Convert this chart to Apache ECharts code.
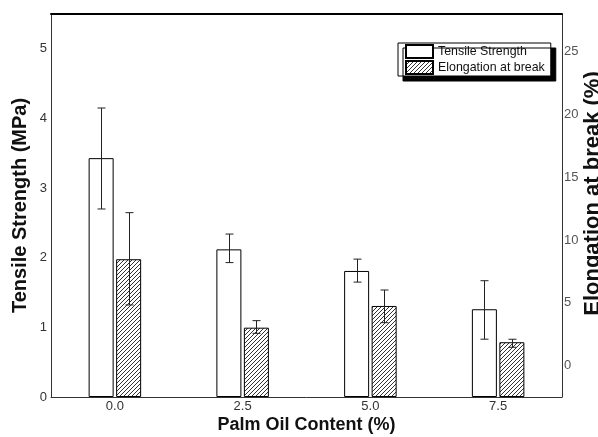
<!DOCTYPE html>
<html><head><meta charset="utf-8">
<script src="https://cdn.jsdelivr.net/npm/echarts@6/dist/echarts.min.js"></script>
<style>html,body{margin:0;padding:0;background:#fff}#c{width:598px;height:437px}</style>
</head><body><div id="c"></div>
<script>
const categories = ['0.0', '2.5', '5.0', '7.5'];
const tensile = [3.43, 2.12, 1.81, 1.26];
const tensileErrHigh = [4.15, 2.34, 1.98, 1.67];
const tensileErrLow = [2.70, 1.93, 1.65, 0.83];
const elongation = [8.47, 3.02, 4.75, 1.86];
const elongErrHigh = [12.18, 3.58, 6.02, 2.10];
const elongErrLow = [4.83, 2.57, 3.42, 1.46];
const leftTicks = [0, 1, 2, 3, 4, 5];
const rightTicks = [0, 5, 10, 15, 20, 25];

const SANS = '"Liberation Sans", Arial, sans-serif';

function hatch() {
  const s = 4, c = document.createElement('canvas');
  c.width = s; c.height = s;
  const g = c.getContext('2d');
  g.fillStyle = '#fff'; g.fillRect(0, 0, s, s);
  g.strokeStyle = '#333'; g.lineWidth = 1;
  g.beginPath();
  g.moveTo(0, s); g.lineTo(s, 0);
  g.moveTo(-1, 1); g.lineTo(1, -1);
  g.moveTo(s - 1, s + 1); g.lineTo(s + 1, s - 1);
  g.stroke();
  return c;
}

function errRender(idx) {
  return function (params, api) {
    const xi = api.value(0);
    const hi = api.coord([xi, api.value(1)]);
    const lo = api.coord([xi, api.value(2)]);
    const lay = api.barLayout({ barWidth: 25, barGap: '10%', count: 2 });
    const x = Math.round(hi[0] + lay[idx].offsetCenter) + 0.5;
    const w = 4;
    const st = { stroke: '#222', lineWidth: 1 };
    return {
      type: 'group', children: [
        { type: 'line', shape: { x1: x, y1: hi[1], x2: x, y2: lo[1] }, style: st },
        { type: 'line', shape: { x1: x - w, y1: hi[1], x2: x + w, y2: hi[1] }, style: st },
        { type: 'line', shape: { x1: x - w, y1: lo[1], x2: x + w, y2: lo[1] }, style: st }
      ]
    };
  };
}

const chart = echarts.init(document.getElementById('c'), null, { renderer: 'canvas' });
const axisLine = { show: true, onZero: false, lineStyle: { color: '#333', width: 1 } };

chart.setOption({
  animation: false,
  backgroundColor: '#fff',
  grid: { left: 51, right: 36, top: 14, bottom: 40, containLabel: false, outerBoundsMode: 'none' },
  legend: {
    data: ['Tensile Strength', 'Elongation at break'],
    orient: 'vertical', left: 398, top: 43,
    icon: 'rect',
    itemWidth: 27, itemHeight: 13, itemGap: 1,
    padding: [1, 6, 1, 7],
    backgroundColor: '#fff', borderColor: '#000', borderWidth: 1,
    shadowColor: '#000', shadowOffsetX: 5, shadowOffsetY: 5, shadowBlur: 0,
    textStyle: { fontFamily: SANS, fontSize: 12.4, color: '#111' }
  },
  xAxis: [{
    type: 'category', data: categories,
    axisLine: axisLine, axisTick: { show: false },
    axisLabel: { fontFamily: SANS, fontSize: 13, color: '#333', margin: 3 },
    name: 'Palm Oil Content (%)', nameLocation: 'middle', nameGap: 19, nameMoveOverlap: false,
    nameTextStyle: { fontFamily: SANS, fontWeight: 'bold', fontSize: 18, color: '#111', verticalAlign: 'top' }
  }, {
    type: 'category', data: categories, position: 'top',
    axisLine: { show: true, onZero: false, lineStyle: { color: '#000', width: 2 } },
    axisTick: { show: false }, axisLabel: { show: false }
  }],
  yAxis: [{
    type: 'value', min: 0, max: 5.5, position: 'left',
    axisLine: axisLine, axisTick: { show: false }, splitLine: { show: false },
    axisLabel: { customValues: leftTicks, fontFamily: SANS, fontSize: 13, color: '#333', margin: 4 },
    name: 'Tensile Strength (MPa)', nameLocation: 'middle', nameGap: 21, nameRotate: 90, nameMoveOverlap: false,
    nameTextStyle: { fontFamily: SANS, fontWeight: 'bold', fontSize: 20, color: '#111' }
  }, {
    type: 'value', min: -2.5, max: 28, startValue: -2.5, position: 'right',
    axisLine: axisLine, axisTick: { show: false }, splitLine: { show: false },
    axisLabel: { customValues: rightTicks, fontFamily: SANS, fontSize: 13, color: '#555', margin: 2 },
    name: 'Elongation at break (%)', nameLocation: 'middle', nameGap: 20, nameRotate: 90, nameMoveOverlap: false,
    nameTextStyle: { fontFamily: SANS, fontWeight: 'bold', fontSize: 22, color: '#111', padding: [0, 0, 0, 24] }
  }],
  series: [{
    name: 'Tensile Strength', type: 'bar', yAxisIndex: 0,
    data: tensile, barWidth: 25, barGap: '10%',
    itemStyle: { color: '#fff', borderColor: '#000', borderWidth: 1 }
  }, {
    name: 'Elongation at break', type: 'bar', yAxisIndex: 1,
    data: elongation, barWidth: 25, barGap: '10%',
    itemStyle: { color: { image: hatch(), repeat: 'repeat' }, borderColor: '#000', borderWidth: 1 }
  }, {
    name: 'tsErr', type: 'custom', yAxisIndex: 0, z: 5,
    renderItem: errRender(0),
    encode: { x: 0, y: [1, 2] },
    data: categories.map((c, i) => [i, tensileErrHigh[i], tensileErrLow[i]])
  }, {
    name: 'elErr', type: 'custom', yAxisIndex: 1, z: 5,
    renderItem: errRender(1),
    encode: { x: 0, y: [1, 2] },
    data: categories.map((c, i) => [i, elongErrHigh[i], elongErrLow[i]])
  }]
});
</script>
</body></html>
